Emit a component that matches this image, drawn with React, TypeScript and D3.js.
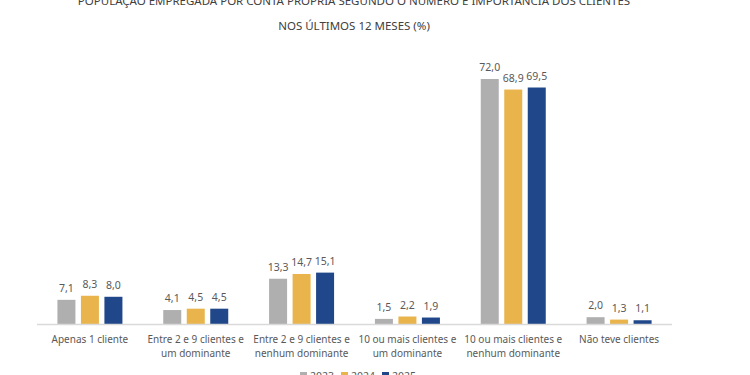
import React from "react";
import * as d3 from "d3";

const categories = [
  ["Apenas 1 cliente"],
  ["Entre 2 e 9 clientes e", "um dominante"],
  ["Entre 2 e 9 clientes e", "nenhum dominante"],
  ["10 ou mais clientes e", "um dominante"],
  ["10 ou mais clientes e", "nenhum dominante"],
  ["Não teve clientes"],
];
const seriesNames = ["2023", "2024", "2025"];
const values2023 = [7.1, 4.1, 13.3, 1.5, 72.0, 2.0];
const values2024 = [8.3, 4.5, 14.7, 2.2, 68.9, 1.3];
const values2025 = [8.0, 4.5, 15.1, 1.9, 69.5, 1.1];
const seriesValues = [values2023, values2024, values2025];
const colors = ["#afafaf", "#e9b44c", "#1f4789"];
const titleLines = [
  "POPULAÇÃO EMPREGADA POR CONTA PRÓPRIA SEGUNDO O NÚMERO E IMPORTÂNCIA DOS CLIENTES",
  "NOS ÚLTIMOS 12 MESES (%)",
];

export default function App() {
  const W = 750, H = 375;
  const x0 = 37, x1 = 672, baseY = 324;
  const font = "Noto Sans, sans-serif";
  const textColor = "#595959";
  const x = d3.scaleBand<number>().domain(d3.range(categories.length)).range([x0, x1]).padding(0);
  const xi = d3.scaleBand<number>().domain(d3.range(3)).range([-32.5, 32.5]).paddingInner(0.234).paddingOuter(0);
  const y = d3.scaleLinear().domain([0, 72]).range([baseY, baseY - 245]);
  const fmt = (v: number) => v.toFixed(1).replace(".", ",");

  return (
    <svg width={W} height={H} style={{ position: "absolute", left: 0, top: 0 }}>
      <rect width={W} height={H} fill="#fff" />
      {titleLines.map((t, i) => (
        <text key={i} x={354} y={5 + i * 25} textAnchor="middle" fontFamily={font} fontSize={11.5} fill="#404040">{t}</text>
      ))}
      {categories.map((c, ci) => {
        const cx = (x(ci) as number) + x.bandwidth() / 2;
        return (
          <g key={ci}>
            {seriesValues.map((vals, si) => {
              const bx = cx + (xi(si) as number);
              const v = vals[ci];
              return (
                <g key={si}>
                  <rect x={bx} y={y(v)} width={xi.bandwidth()} height={baseY - y(v)} fill={colors[si]} />
                  <text x={bx + xi.bandwidth() / 2} y={y(v) - 8} textAnchor="middle" fontFamily={font} fontSize={10.5} fill={textColor}>{fmt(v)}</text>
                </g>
              );
            })}
            {c.map((line, li) => (
              <text key={li} x={cx} y={343 + li * 14} textAnchor="middle" fontFamily={font} fontSize={10} fill={textColor}>{line}</text>
            ))}
          </g>
        );
      })}
      <line x1={x0} x2={x1} y1={baseY + 0.5} y2={baseY + 0.5} stroke="#d9d9d9" strokeWidth={1.5} />
      {seriesNames.map((s, si) => (
        <g key={s} transform={`translate(${300 + si * 41},372)`}>
          <rect x={0} y={0} width={7} height={7} fill={colors[si]} />
          <text x={10} y={8} fontFamily={font} fontSize={10.5} fill={textColor}>{s}</text>
        </g>
      ))}
    </svg>
  );
}
